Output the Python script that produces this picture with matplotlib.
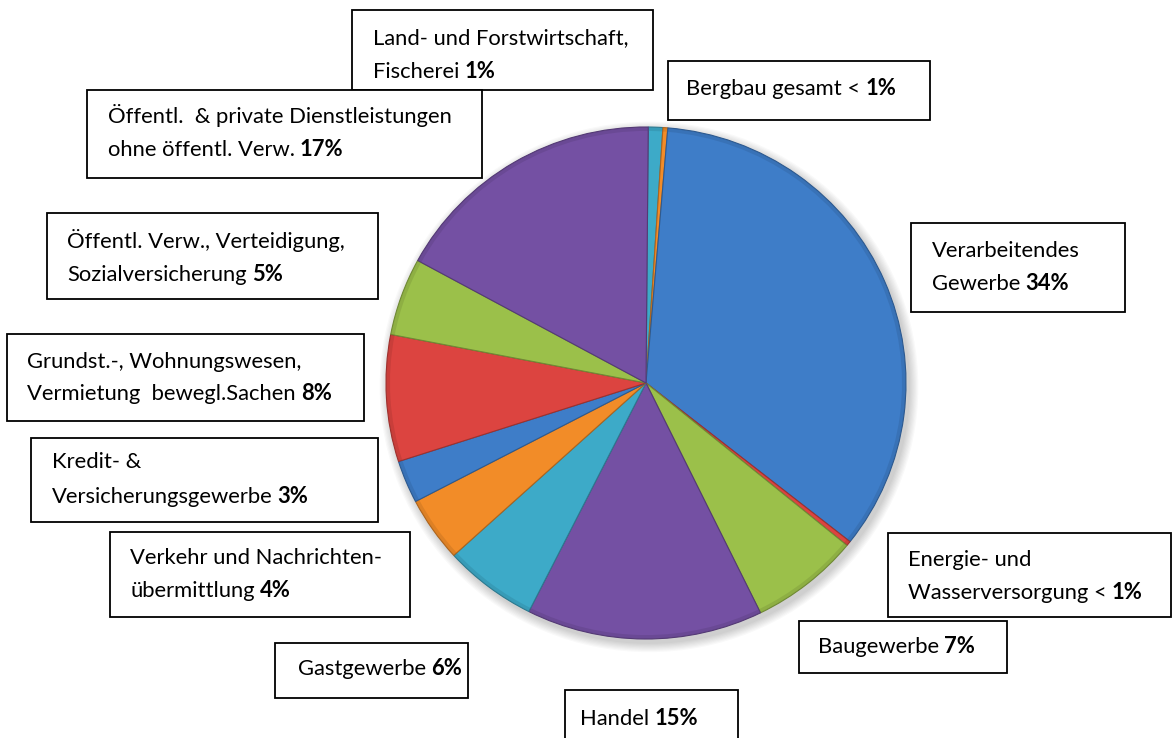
import matplotlib
matplotlib.use("Agg")
import matplotlib.pyplot as plt
import matplotlib.colors as mcolors
from matplotlib.patches import Rectangle, Circle, Wedge
from matplotlib.transforms import Affine2D

# ---------------- data ----------------
categories = [
    "Land- und Forstwirtschaft,\nFischerei",
    "Bergbau gesamt <",
    "Verarbeitendes\nGewerbe",
    "Energie- und\nWasserversorgung <",
    "Baugewerbe",
    "Handel",
    "Gastgewerbe",
    "Verkehr und Nachrichten-\nübermittlung",
    "Kredit- &\nVersicherungsgewerbe",
    "Grundst.-, Wohnungswesen,\nVermietung  bewegl.Sachen",
    "Öffentl. Verw., Verteidigung,\nSozialversicherung",
    "Öffentl.  & private Dienstleistungen\nohne öffentl. Verw.",
]
shares = [0.9, 0.3, 34.3, 0.3, 6.8, 14.7, 5.8, 4.1, 2.7, 8.0, 4.9, 17.2]
pct_labels = ["1%", "1%", "34%", "1%", "7%", "15%", "6%", "4%", "3%", "8%", "5%", "17%"]

# ---------------- style ----------------
colors = ["#3DAAC8", "#F28C28", "#3E7DC8", "#DC4440", "#9BC04A", "#7450A3",
          "#3DAAC8", "#F28C28", "#3E7DC8", "#DC4440", "#9BC04A", "#7450A3"]

# box layout in pixel coords from top-left: (x0, y0, x1, y1, text_x, first_baseline, line_step)
boxes = [
    (352, 10, 653, 90, 373, 44, 34),
    (668, 61, 930, 120, 686, 95, 33),
    (911, 223, 1125, 312, 932, 257, 33),
    (888, 533, 1171, 617, 908, 566, 33),
    (799, 621, 1007, 673, 818, 653, 33),
    (565, 690, 738, 745, 580, 725, 33),
    (275, 643, 468, 698, 298, 675, 33),
    (110, 532, 410, 617, 130, 564, 33),
    (31, 438, 378, 522, 52, 468, 35),
    (7, 334, 364, 421, 27, 368, 32),
    (47, 213, 378, 299, 67, 248, 33),
    (87, 90, 482, 178, 108, 123, 33),
]

W, H = 1173, 738
cx, cy_px = 646, 383
rx, ry = 260, 256

plt.rcParams['font.family'] = ['Lato', 'DejaVu Sans']
fs = 15.8

fig = plt.figure(figsize=(W / 100, H / 100), dpi=100)
ax = fig.add_axes([0, 0, 1, 1])
ax.set_xlim(0, W)
ax.set_ylim(0, H)
ax.axis("off")

cy = H - cy_px
ell = Affine2D().translate(-cx, -cy).scale(1, ry / rx).translate(cx, cy) + ax.transData

# soft shadow
for i in range(8):
    sh = Circle((cx + 3, cy - 4), rx + 1 + i * 1.2, facecolor="black", alpha=0.022,
                edgecolor="none", zorder=1)
    sh.set_transform(ell)
    ax.add_patch(sh)

edge_cols = [tuple(c * 0.72 for c in mcolors.to_rgb(col)) for col in colors]
wedges, _ = ax.pie(shares, colors=colors, startangle=89.5, counterclock=False,
                   center=(cx, cy), radius=rx, frame=True,
                   wedgeprops=dict(linewidth=0.8))
for w, ec in zip(wedges, edge_cols):
    w.set_edgecolor(ec)
    w.set_transform(ell)
    w.set_zorder(2)
    rim = Wedge((cx, cy), rx, w.theta1, w.theta2, width=4,
                facecolor=ec, edgecolor="none", alpha=0.3, zorder=3)
    rim.set_transform(ell)
    ax.add_patch(rim)

ax.set_xlim(0, W)
ax.set_ylim(0, H)
ax.set_aspect("auto")
ax.axis("off")

renderer = fig.canvas.get_renderer()
inv = ax.transData.inverted()

for cat, pct, (x0, y0, x1, y1, tx, by, step) in zip(categories, pct_labels, boxes):
    ax.add_patch(Rectangle((x0, H - y1), x1 - x0, y1 - y0, facecolor="white",
                           edgecolor="black", linewidth=1.3, zorder=5, clip_on=False))
    lines = cat.split("\n")
    for i, ln in enumerate(lines):
        yb = H - (by + i * step)
        t = ax.text(tx, yb, ln, fontsize=fs, va="baseline", ha="left", color="black", zorder=6)
        if i == len(lines) - 1:
            bb = t.get_window_extent(renderer)
            xr = inv.transform((bb.x1, bb.y0))[0]
            ax.text(xr + 5, yb, pct, fontsize=fs, fontweight="bold", va="baseline",
                    ha="left", color="black", zorder=6)

fig.savefig("out.png", dpi=100)
